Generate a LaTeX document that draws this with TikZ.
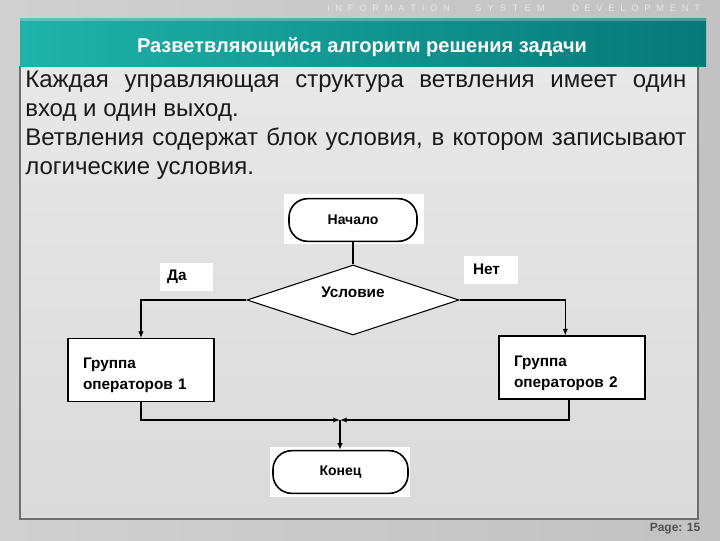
\documentclass[tikz,border=0pt]{standalone}
\usepackage{fontspec}
\setmainfont{Liberation Sans}
\usepackage{xcolor}
\definecolor{cBack}{HTML}{C2C2C2}
\definecolor{cBackL}{HTML}{D0D0D0}
\definecolor{cPanelT}{HTML}{E8E8E8}
\definecolor{cPanelB}{HTML}{DADADA}
\definecolor{cTealL}{HTML}{1FB3A9}
\definecolor{cTealD}{HTML}{067878}
\definecolor{cEdge}{HTML}{6E6E6E}
\definecolor{cText}{HTML}{1A1A1A}
\definecolor{cPage}{HTML}{505050}
\definecolor{cHead}{HTML}{E8E8E8}
\usetikzlibrary{arrows.meta,shapes.geometric,calc}
\tikzset{
  node-backing/.style={fill=white,inner sep=0pt,minimum width=105pt,minimum height=37.5pt},
  node-term/.style={draw=black,line width=1.2pt,fill=white,rounded corners=14pt,
    minimum width=96pt,minimum height=32pt,inner sep=0pt,
    font=\bfseries\fontsize{10.5}{12}\selectfont},
  node-cond/.style={draw=black,line width=0.8pt,fill=white,diamond,
    minimum width=159pt,minimum height=52.5pt,inner sep=0pt},
  node-box/.style={draw=black,line width=0.8pt,fill=white,
    minimum width=109.5pt,minimum height=47pt,text width=87pt,align=left,
    inner xsep=11.25pt,inner ysep=0pt,font=\bfseries\fontsize{11.5}{15.75}\selectfont},
  node-tag/.style={fill=white,minimum height=21pt,inner ysep=0pt,align=left,
    font=\bfseries\fontsize{11.5}{14}\selectfont},
  node-head/.style={text=cHead,inner sep=0pt,font=\fontsize{7}{8}\selectfont},
  body-line/.style={anchor=base west,inner sep=0pt,text=cText,
    font=\fontsize{18}{21.75}\selectfont},
  line/.style={line width=0.9pt,draw=black},
  arrow/.style={-{Latex[length=5pt,width=4pt]},line width=0.9pt,draw=black},
  arrow-join/.style={arrow,line width=1.4pt},
}
\begin{document}
\begin{tikzpicture}[x=0.75pt,y=-0.75pt]
  \useasboundingbox (0,0) rectangle (720,540);
  % slide
  \shade[left color=cBackL,right color=cBack] (0,0) rectangle (720,540);
  \shade[top color=cPanelT,bottom color=cPanelB] (20,66) rectangle (698,519);
  \draw[cEdge,line width=0.8pt] (20,66) -- (20,519) -- (698,519) -- (698,66);
  \shade[left color=cTealL,right color=cTealD] (20,18) rectangle (706,66);
  \fill[white,opacity=0.25] (20,18) rectangle (706,21);

  \node[node-head] (hinfo) at (388.5,8) {\makebox[92pt][s]{I N F O R M A T I O N}};
  \node[node-head] (hsys) at (510,8) {\makebox[52.5pt][s]{S Y S T E M}};
  \node[node-head] (hdev) at (636,8) {\makebox[96pt][s]{D E V E L O P M E N T}};
  \node[text=white,font=\bfseries\fontsize{15}{18}\selectfont] (title) at (362,47)
    {Разветвляющийся алгоритм решения задачи};

  \node[body-line] (line1) at (25,87)
    {\makebox[495.75pt][s]{Каждая управляющая структура ветвления имеет один}};
  \node[body-line] (line2) at (25,116) {вход и один выход.};
  \node[body-line] (line3) at (25,145)
    {\makebox[495.75pt][s]{Ветвления содержат блок условия, в котором записывают}};
  \node[body-line] (line4) at (25,174) {логические условия.};

  % flowchart
  \node[node-backing] (startbg) at (354,219) {};
  \node[node-term] (start) at (353,220) {Начало};
  \node[node-cond,label={[name=condtext,font=\bfseries\fontsize{11.5}{14}\selectfont,
    yshift=6pt]center:Условие}] (cond) at (353,300) {};
  \node[node-tag,text width=29pt,inner xsep=5.5pt] (yes) at (186.5,276.5) {Да};
  \node[node-tag,text width=27pt,inner xsep=6.75pt] (no) at (491,269.5) {Нет};
  \node[node-box] (box1) at (141,370) {\rule{0pt}{16pt}Группа\\операторов 1};
  \node[node-box,minimum height=47.25pt] (box2) at (572,367.5)
    {\rule{0pt}{16pt}Группа\\операторов 2};
  \node[node-backing] (stopbg) at (340,472) {};
  \node[node-term,minimum width=101.25pt] (stop) at (340.5,472) {Конец};
  \coordinate (join) at (340,420);

  \draw[line] (start.south) -- (cond.north);
  \draw[arrow] (cond.west) -| (box1.north);
  \draw[arrow] (cond.east) -| ([xshift=-5pt]box2.north);
  \draw[arrow-join] (box1.south) |- (join);
  \draw[arrow-join] ([xshift=-2pt]box2.south) |- (join);
  \draw[arrow] (join) -- (join |- stop.north);

  \node[text=cPage,font=\bfseries\fontsize{9}{10}\selectfont] (page) at (675,529) {Page: 15};
\end{tikzpicture}
\end{document}
